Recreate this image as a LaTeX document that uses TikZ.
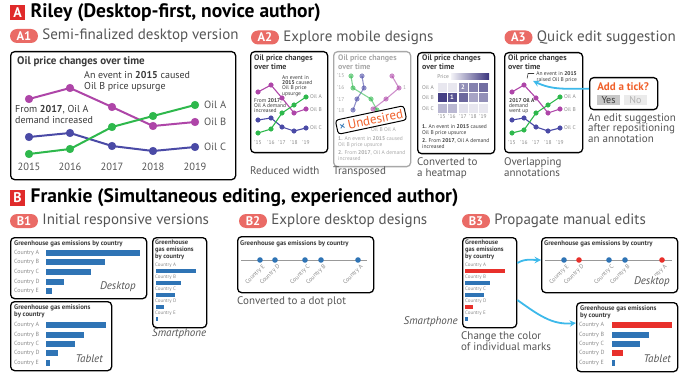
\documentclass[tikz,border=0pt]{standalone}
\usepackage{fontspec}
\setmainfont{PT Sans}
\usetikzlibrary{positioning}
\definecolor{tagred}{HTML}{E02A2A}
\definecolor{pillred}{HTML}{EA6B66}
\definecolor{subgray}{HTML}{555555}
\definecolor{darktext}{HTML}{3A3A3A}
\definecolor{axgray}{HTML}{8A8A8A}
\definecolor{fadegray}{HTML}{A8A8A8}
\definecolor{oila}{HTML}{2EB84C}
\definecolor{oilb}{HTML}{AE45A8}
\definecolor{oilc}{HTML}{4A4AA6}
\definecolor{heat}{HTML}{3B357E}
\definecolor{barblue}{HTML}{2F74B5}
\definecolor{markred}{HTML}{E8302B}
\definecolor{cyanarr}{HTML}{3DB9EA}
\definecolor{tickorange}{HTML}{F0602A}
\newcommand\fsz[2]{\fontsize{#1}{#2}\selectfont}

\begin{document}
\begin{tikzpicture}[x=1pt,y=-1pt,
  tag/.style={fill=tagred, text=white, font=\bfseries\fsz{14}{14}, minimum size=15.5pt, inner sep=0pt},
  head/.style={font=\bfseries\fsz{19.5}{19.5}, inner sep=0pt, anchor=west},
  pill/.style={fill=pillred, text=white, font=\bfseries\fsz{12.5}{12.5}, rounded corners=7pt, minimum width=28pt, minimum height=14pt, inner sep=0pt},
  subtext/.style={font=\fsz{15}{15}, text=subgray, inner sep=0pt, anchor=west},
  panel/.style 2 args={draw, line width=1.3pt, rounded corners=4pt, minimum width=#1, minimum height=#2, anchor=north west, inner sep=0pt},
  capt/.style={font=\fsz{11}{11}, text=subgray, inner sep=0pt, anchor=north west, align=left},
  ctitle/.style={font=\bfseries\fsz{8}{8.5}, text=darktext, inner sep=0pt, anchor=north west, align=left},
  note/.style={font=\fsz{5.5}{5.4}, text=darktext, inner sep=0pt, anchor=north west, align=left},
  axlab/.style={font=\fsz{5.5}{5.5}, text=axgray, inner sep=0pt},
  linebig/.style={line width=2pt, mark=*, mark size=4pt, mark options={line width=0.1pt}},
  linesmall/.style={line width=1.1pt, mark=*, mark size=2.4pt, mark options={line width=0.1pt}},
  gtitle/.style={font=\bfseries\fsz{6.8}{7.6}, text=darktext, inner sep=0pt, anchor=north west, align=left},
  barlab/.style={font=\fsz{6}{6}, text=axgray, inner sep=0pt, anchor=west},
  dev/.style={font=\itshape\fsz{11}{11}, text=subgray, inner sep=0pt},
  dotlab/.style={font=\fsz{6}{6}, text=axgray, inner sep=0.5pt, rotate=45, anchor=north east},
  cyanarrow/.style={cyanarr, line width=1.8pt, ->, >=stealth}
]
\useasboundingbox (0,0) rectangle (695,374);

\node[tag] (tagA) at (17.5,12.5) {A};
\node[head, right=5pt of tagA] (headA) {Riley (Desktop-first, novice author)};

\node[pill] (pA1) at (24,36) {A1};
\node[subtext, right=4pt of pA1] (sA1) {Semi-finalized desktop version};
\node[panel={225pt}{128pt}] (boxA1) at (10,51) {};
\node[font=\bfseries\fsz{11}{11}, text=darktext, inner sep=0pt, anchor=west] (tA1) at (17,62) {Oil price changes over time};
\node[note, font=\fsz{10}{11.5}] (nA1a) at (84,71) {An event in \textbf{2015} caused\\Oil B price upsurge};
\node[note, font=\fsz{10}{11.5}] (nA1b) at (15,105) {From \textbf{2017}, Oil A\\demand increased};
\draw[oilc, linebig] plot coordinates {(29,137) (70,133) (112,146) (153,151) (195,147)};
\draw[oilb, linebig] plot coordinates {(29,99) (70,88) (112,107) (153,126) (195,122)};
\draw[oila, linebig] plot coordinates {(29,154) (70,149) (112,127) (153,116) (195,105)};
\foreach \y/\o in {105/A,122/B,147/C}
  \node[font=\fsz{10.5}{10.5}, text=subgray, inner sep=0pt, anchor=west] (lA1\o) at (204,\y) {Oil \o};
\foreach \x/\yr in {29/2015,70/2016,112/2017,153/2018,195/2019}
  \node[font=\fsz{10.5}{10.5}, text=subgray, inner sep=0pt] (yA1\yr) at (\x,167) {\yr};

\node[pill] (pA2) at (265,37.5) {A2};
\node[subtext, right=4pt of pA2] (sA2) {Explore mobile designs};
\node[panel={77pt}{101pt}] (boxA2a) at (250,51) {};
\node[ctitle] (tA2a) at (254,55) {Oil price changes\\over time};
\node[note] (nA2a) at (282,75) {An event in\\\textbf{2015} caused\\Oil B price\\upsurge};
\node[note] (nA2b) at (254,98) {From \textbf{2017},\\Oil A demand\\increased};
\draw[oilc, linesmall] plot coordinates {(258,120) (271,118) (282,127) (294,131) (306,128)};
\draw[oilb, linesmall] plot coordinates {(258,92) (271,85) (282,98) (294,113) (306,109)};
\draw[oila, linesmall] plot coordinates {(258,133) (271,129) (282,113) (294,105) (306,97)};
\foreach \y/\o in {97/A,110/B,128/C}
  \node[axlab, anchor=west] (lA2a\o) at (310,\y) {Oil \o};
\foreach \x/\yr [count=\i] in {258/'15,271/'16,282/'17,294/'18,306/'19}
  \node[axlab] (yA2a\i) at (\x,143) {\yr};
\node[capt] (cA2a) at (250,167) {Reduced width};

\node[panel={77pt}{115pt}, draw=fadegray] (boxA2b) at (333,51) {};
\node[ctitle, text=fadegray] (tA2b) at (338,55) {Oil price changes\\over time};
\foreach \y/\yr [count=\i] in {76/'15,88/'16,100/'17,111/'18}
  \node[axlab, text=fadegray, anchor=west] (yA2b\i) at (337,\y) {\yr};
\draw[oilc, linesmall, opacity=0.6] plot coordinates {(362,76) (364,88) (357,99) (353,110)};
\draw[oila, linesmall, opacity=0.6] plot coordinates {(351,76) (353,88) (371,99) (377,110)};
\draw[oilb, linesmall, opacity=0.6] plot coordinates {(392,76) (399,88) (386,99) (373,109)};
\node[axlab, text=fadegray, anchor=west] (oneA2b) at (403,88) {1};
\node[axlab, text=fadegray, anchor=west] (obA2b) at (371,130) {Oil B Oil A};
\node[note, text=fadegray, font=\fsz{5.5}{6}] (fA2b) at (338,136) {\textbf{1.} An event in \textbf{2015} caused\\Oil B price upsurce\\[2pt]\textbf{2.} From \textbf{2017}, Oil A demand\\increased};
\node[draw, fill=white, line width=1pt, rounded corners=3pt, rotate=12, font=\fsz{13}{13}, text=tickorange, inner sep=2.5pt] (undesired) at (371,120) {{\color{barblue}×}\,Undesired};
\node[capt] (cA2b) at (333,167) {Transposed};

\node[panel={77pt}{101pt}] (boxA2c) at (417,52) {};
\node[ctitle] (tA2c) at (422,55) {Oil price changes\\over time};
\node[axlab, anchor=east] (prA2c) at (449,77) {Price};
\shade[left color=heat!6, right color=heat] (451,74) rectangle (489,80);
\foreach \y/\o in {88/A,98/B,109/C}
  \node[axlab, anchor=west] (rA2c\o) at (422,\y) {Oil \o};
\foreach \x/\y/\v in {442/87.5/12,452/87.5/12,463/87.5/55,473/87.5/62,483/87.5/72,
  442/97.5/95,452/97.5/85,463/97.5/75,473/97.5/45,483/97.5/55,
  442/108.5/35,452/108.5/35,463/108.5/15,473/108.5/12,483/108.5/12}
  \fill[heat!\v] (\x-4.5,\y-4.5) rectangle (\x+4.5,\y+4.5);
\node[font=\bfseries\fsz{6.5}{6.5}, text=white, inner sep=0pt] (twoA2c) at (463,87.5) {2};
\node[font=\bfseries\fsz{6.5}{6.5}, text=white, inner sep=0pt] (oneA2c) at (452,97.5) {1};
\foreach \x/\yr [count=\i] in {442/'15,452/'16,463/'17,473/'18,483/'19}
  \node[axlab] (yA2c\i) at (\x,117) {\yr};
\node[note, font=\fsz{5.5}{6}] (fA2c) at (422,124) {\textbf{1.} An event in \textbf{2015} caused\\Oil B price upsurce\\[2pt]\textbf{2.} From \textbf{2017}, Oil A demand\\increased};
\node[capt] (cA2c) at (417,157) {Converted to\\a heatmap};

\node[pill] (pA3) at (518.5,37.5) {A3};
\node[subtext, right=4pt of pA3] (sA3) {Quick edit suggestion};
\node[panel={78pt}{100pt}] (boxA3) at (504,52) {};
\node[ctitle] (tA3) at (508,55) {Oil price changes\\over time};
\node[note, anchor=north east, align=right, font=\fsz{5.5}{6.5}] (nA3a) at (577,71) {An event in \textbf{2015}\\raised Oil B price};
\draw[darktext, line width=0.6pt] (nA3a.north west) ++(-2,2.5) -- ++(-6,0) -- ++(-1,5);
\node[note] (nA3b) at (509,98) {\textbf{2017 Oil A}\\demand\\went up};
\draw[oilc, linesmall] plot coordinates {(512,120) (524,118) (536,127) (548,131) (560,128)};
\draw[oilb, linesmall] plot coordinates {(512,92) (524,85) (536,98) (548,113) (560,109)};
\draw[oila, linesmall] plot coordinates {(512,133) (524,130) (536,113) (548,105) (560,97)};
\foreach \y/\o in {97/A,110/B,128/C}
  \node[axlab, anchor=west] (lA3\o) at (564,\y) {Oil \o};
\foreach \x/\yr [count=\i] in {512/'15,524/'16,536/'17,548/'18,560/'19}
  \node[axlab] (yA3\i) at (\x,143) {\yr};
\node[panel={68pt}{32pt}] (sugg) at (589,77) {};
\node[font=\bfseries\fsz{11}{11}, text=tickorange, inner sep=0pt] (addtick) at (623,87) {Add a tick?};
\node[fill=black!22, text=darktext, font=\fsz{10}{10}, minimum width=23pt, minimum height=10pt, inner sep=0pt] (yes) at (608.5,100) {Yes};
\node[fill=black!8, text=black!30, font=\fsz{10}{10}, minimum width=23pt, minimum height=10pt, inner sep=0pt] (no) at (635.5,100) {No};
\draw[cyanarrow] ([yshift=5pt]sugg.west) to[out=180, in=-25] ([xshift=-3pt,yshift=-4pt]nA3a.west);
\node[capt, font=\fsz{11}{10.5}] (cA3s) at (588,113) {An edit suggestion\\after repositioning\\an annotation};
\node[capt] (cA3) at (504,157) {Overlapping\\annotations};

\node[tag] (tagB) at (17.5,198) {B};
\node[head, right=5pt of tagB] (headB) {Frankie (Simultaneous editing, experienced author)};

\node[pill] (pB1) at (24,221) {B1};
\node[subtext, right=4pt of pB1] (sB1) {Initial responsive versions};
\node[panel={136pt}{61pt}] (dkB1) at (10,237) {};
\node[gtitle] (tdkB1) at (14,240) {Greenhouse gas emissions by country};
\foreach \c/\y/\l in {A/253/140,B/262/105,C/272/91,D/282/64,E/291/52} {
  \node[barlab] (ldkB1\c) at (14,\y) {Country \c};
  \fill[barblue] (46,\y-2.6) rectangle (\l,\y+2.6);
}
\node[dev, anchor=east] (ddkB1) at (136,287) {Desktop};
\node[panel={101pt}{69pt}] (tbB1) at (10,301) {};
\node[gtitle] (ttbB1) at (14,304) {Greenhouse gas emissions\\by country};
\foreach \c/\y/\l in {A/325/106,B/335/84,C/344/75,D/353/58,E/363/50} {
  \node[barlab] (ltbB1\c) at (14,\y) {Country \c};
  \fill[barblue] (46,\y-2.6) rectangle (\l,\y+2.6);
}
\node[dev, anchor=east] (dtbB1) at (103,359) {Tablet};
\node[panel={54pt}{90pt}] (phB1) at (152,237) {};
\node[gtitle, font=\bfseries\fsz{6.5}{6.6}] (tphB1) at (155,240) {Greenhouse\\gas emissions\\by country};
\foreach \c/\y/\l in {A/265/196,B/277/181,C/289/175,D/301/164,E/313/158} {
  \node[barlab, font=\fsz{5}{5}] (lphB1\c) at (155,\y) {Country \c};
  \fill[barblue] (156,\y+3.6) rectangle (\l,\y+8.4);
}
\node[dev, anchor=west] (dphB1) at (152,334) {Smartphone};

\node[pill] (pB2) at (253,221) {B2};
\node[subtext, right=4pt of pB2] (sB2) {Explore desktop designs};
\node[panel={136pt}{56pt}] (dkB2) at (237,236) {};
\node[gtitle, anchor=west] (tdkB2) at (240,244) {Greenhouse gas emissions by country};
\draw[black!40, line width=0.8pt] (241,260) -- (367,260);
\foreach \c/\x in {E/260,D/275,C/305,B/321,A/358} {
  \fill[barblue] (\x,260) circle (2.8pt);
  \node[dotlab] (ldkB2\c) at (\x+2,263) {Country \c};
}
\node[capt] (cB2) at (237,296) {Converted to a dot plot};

\node[pill] (pB3) at (476,221) {B3};
\node[subtext, right=4pt of pB3] (sB3) {Propagate manual edits};
\node[panel={54pt}{90pt}] (phB3) at (462,237) {};
\node[gtitle, font=\bfseries\fsz{6.5}{6.6}] (tphB3) at (465,240) {Greenhouse\\gas emissions\\by country};
\foreach \c/\y/\l/\col in {A/265/505/markred,B/277/490/barblue,C/289/484/barblue,D/301/473/markred,E/313/468/barblue} {
  \node[barlab, font=\fsz{5}{5}] (lphB3\c) at (465,\y) {Country \c};
  \fill[\col] (465,\y+3.6) rectangle (\l,\y+8.4);
}
\node[dev, anchor=east] (dphB3) at (458,322) {Smartphone};
\node[capt] (cB3) at (461,331) {Change the color\\of individual marks};
\node[panel={136pt}{55pt}] (dkB3) at (541,237) {};
\node[gtitle, anchor=west] (tdkB3) at (544,244) {Greenhouse gas emissions by country};
\draw[black!40, line width=0.8pt] (545,260) -- (672,260);
\foreach \c/\x/\col in {E/564/barblue,D/579/markred,C/609/barblue,B/625/barblue,A/662/markred} {
  \fill[\col] (\x,260) circle (2.8pt);
  \node[dotlab] (ldkB3\c) at (\x+2,263) {Country \c};
}
\node[dev, anchor=east, fill=white, inner sep=1pt] (ddkB3) at (671,282) {Desktop};
\node[panel={101pt}{69pt}] (tbB3) at (576,302) {};
\node[gtitle] (ttbB3) at (580,305) {Greenhouse gas emissions\\by country};
\foreach \c/\y/\l/\col in {A/325/672/markred,B/335/649/barblue,C/344/640/barblue,D/353/623/markred,E/363/615/barblue} {
  \node[barlab] (ltbB3\c) at (579,\y) {Country \c};
  \fill[\col] (612,\y-2.6) rectangle (\l,\y+2.6);
}
\node[dev, anchor=east] (dtbB3) at (671,359) {Tablet};
\draw[cyanarrow] ([yshift=-26pt]phB3.north east) to[out=30, in=180] ([yshift=-23pt]dkB3.north west);
\draw[cyanarrow] ([yshift=-63pt]phB3.north east) to[out=-35, in=185] ([yshift=-21pt]tbB3.north west);
\end{tikzpicture}
\end{document}
